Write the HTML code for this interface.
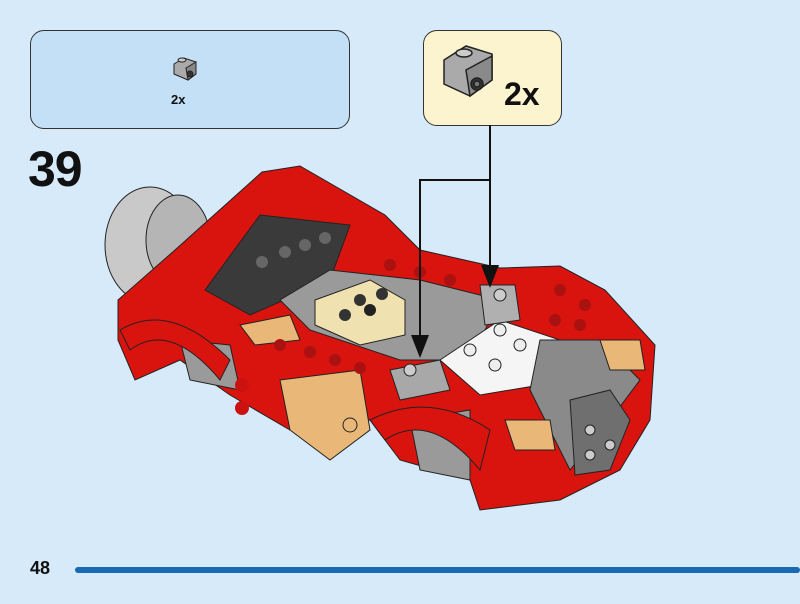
<!DOCTYPE html>
<html><head><style>
html,body{margin:0;padding:0;background:#d6eafa;}
body{width:800px;height:604px;position:relative;overflow:hidden;font-family:"Liberation Sans",sans-serif;}
.box{position:absolute;border:1.5px solid #333;border-radius:14px;}
</style></head><body>
<div class="box" style="left:30px;top:30px;width:318px;height:97px;background:#c4e0f6;"></div>
<div class="box" style="left:423px;top:30px;width:137px;height:94px;background:#fcf4cf;"></div>
<div style="position:absolute;left:171px;top:92px;font-size:13px;font-weight:bold;color:#111">2x</div>
<div style="position:absolute;left:504px;top:76px;font-size:32px;font-weight:bold;color:#111">2x</div>
<div style="position:absolute;left:28px;top:140px;font-size:50px;font-weight:bold;color:#111;letter-spacing:-1px">39</div>
<div style="position:absolute;left:30px;top:558px;font-size:18px;font-weight:bold;color:#111">48</div>
<div style="position:absolute;left:75px;top:567px;width:725px;height:6px;background:#1a69b3;border-radius:3px"></div>
<svg width="800" height="604" style="position:absolute;left:0;top:0">
<!-- small part icon -->
<g stroke="#222" stroke-width="1">
<polygon points="174,64 184,58 196,62 196,74 188,80 174,74" fill="#aaa"/>
<polygon points="186,68 196,62 196,74 188,80" fill="#888"/>
<circle cx="190" cy="74" r="3" fill="#333"/>
<ellipse cx="182" cy="60" rx="4" ry="2" fill="#ccc"/>
</g>
<g stroke="#222" stroke-width="1.5">
<polygon points="444,60 466,46 492,54 492,80 470,96 444,84" fill="#aaa"/>
<polygon points="466,70 492,56 492,80 470,96" fill="#8a8a8a"/>
<ellipse cx="464" cy="53" rx="8" ry="4" fill="#ccc"/>
<circle cx="477" cy="84" r="6" fill="#333"/>
<circle cx="477" cy="84" r="3" fill="#777"/>
</g>
<!-- car -->
<g stroke="#222" stroke-width="1">
<ellipse cx="150" cy="245" rx="45" ry="58" fill="#c9c9c9"/>
<ellipse cx="178" cy="240" rx="32" ry="45" fill="#b5b5b5"/>
<polygon points="118,300 175,250 262,172 300,166 385,215 420,250 500,268 560,266 605,290 655,345 650,420 620,470 560,500 480,510 470,480 400,460 370,420 290,430 230,395 180,360 135,380 118,340" fill="#d9140e"/>
<polygon points="205,290 260,215 350,225 330,280 250,315" fill="#3a3a3a"/>
<polygon points="280,300 330,270 420,280 500,300 470,360 400,360 310,330" fill="#9a9a9a"/>
<polygon points="315,300 370,280 405,300 405,335 360,345 315,325" fill="#efe2b0"/>
<polygon points="440,360 500,320 560,340 540,385 480,395" fill="#f5f5f5"/>
<polygon points="540,340 600,340 640,380 610,420 570,470 545,420 530,390" fill="#8a8a8a"/>
<polygon points="570,400 610,390 630,420 610,470 575,475" fill="#6f6f6f"/>
<polygon points="390,370 440,360 450,390 400,400" fill="#a8a8a8"/>
<polygon points="480,285 515,285 520,320 485,325" fill="#b0b0b0"/>
<polygon points="280,380 360,370 370,430 330,460 290,430" fill="#e9b878"/>
<polygon points="240,325 290,315 300,340 255,345" fill="#e9b878"/>
<polygon points="600,340 640,340 645,370 610,370" fill="#e9b878"/>
<polygon points="505,420 550,420 555,450 515,450" fill="#e9b878"/>
<polygon points="180,340 230,345 240,390 190,380" fill="#9a9a9a"/>
<polygon points="410,420 470,410 470,480 420,470" fill="#9a9a9a"/>
<path d="M120 330 Q170 300 230 360 L220 380 Q170 320 130 350 Z" fill="#d9140e"/>
<path d="M370 420 Q430 390 490 430 L480 470 Q430 410 385 440 Z" fill="#d9140e"/>
</g>
<g fill="#222">
<circle cx="262" cy="262" r="6" fill="#666"/><circle cx="285" cy="252" r="6" fill="#666"/><circle cx="305" cy="245" r="6" fill="#666"/><circle cx="325" cy="238" r="6" fill="#666"/>
<circle cx="360" cy="300" r="6" fill="#333"/><circle cx="382" cy="294" r="6" fill="#333"/><circle cx="345" cy="315" r="6" fill="#333"/><circle cx="370" cy="310" r="6"/>
<circle cx="280" cy="345" r="6" fill="#a11"/><circle cx="310" cy="352" r="6" fill="#a11"/><circle cx="335" cy="360" r="6" fill="#a11"/><circle cx="360" cy="368" r="6" fill="#a11"/>
<circle cx="390" cy="265" r="6" fill="#a11"/><circle cx="420" cy="272" r="6" fill="#a11"/><circle cx="450" cy="280" r="6" fill="#a11"/>
<circle cx="560" cy="290" r="6" fill="#a11"/><circle cx="585" cy="305" r="6" fill="#a11"/><circle cx="580" cy="325" r="6" fill="#a11"/><circle cx="555" cy="320" r="6" fill="#a11"/>
<circle cx="500" cy="330" r="6" fill="#eee" stroke="#222"/><circle cx="520" cy="345" r="6" fill="#eee" stroke="#222"/><circle cx="470" cy="350" r="6" fill="#eee" stroke="#222"/><circle cx="495" cy="365" r="6" fill="#eee" stroke="#222"/>
<circle cx="500" cy="295" r="6" fill="#ccc" stroke="#222"/><circle cx="410" cy="370" r="6" fill="#ccc" stroke="#222"/>
<circle cx="590" cy="430" r="5" fill="#ccc" stroke="#222"/><circle cx="610" cy="445" r="5" fill="#ccc" stroke="#222"/><circle cx="590" cy="455" r="5" fill="#ccc" stroke="#222"/>
<circle cx="242" cy="385" r="7" fill="#c11"/><circle cx="242" cy="408" r="7" fill="#c11"/>
<circle cx="350" cy="425" r="7" fill="#e9b878" stroke="#222"/>
</g>
<!-- arrows -->
<g stroke="#111" stroke-width="2" fill="none">
<polyline points="490,125 490,270"/>
<polyline points="490,180 420,180 420,340"/>
</g>
<polygon points="481,265 499,265 490,288" fill="#111"/>
<polygon points="411,335 429,335 420,358" fill="#111"/>
</svg>
</body></html>
